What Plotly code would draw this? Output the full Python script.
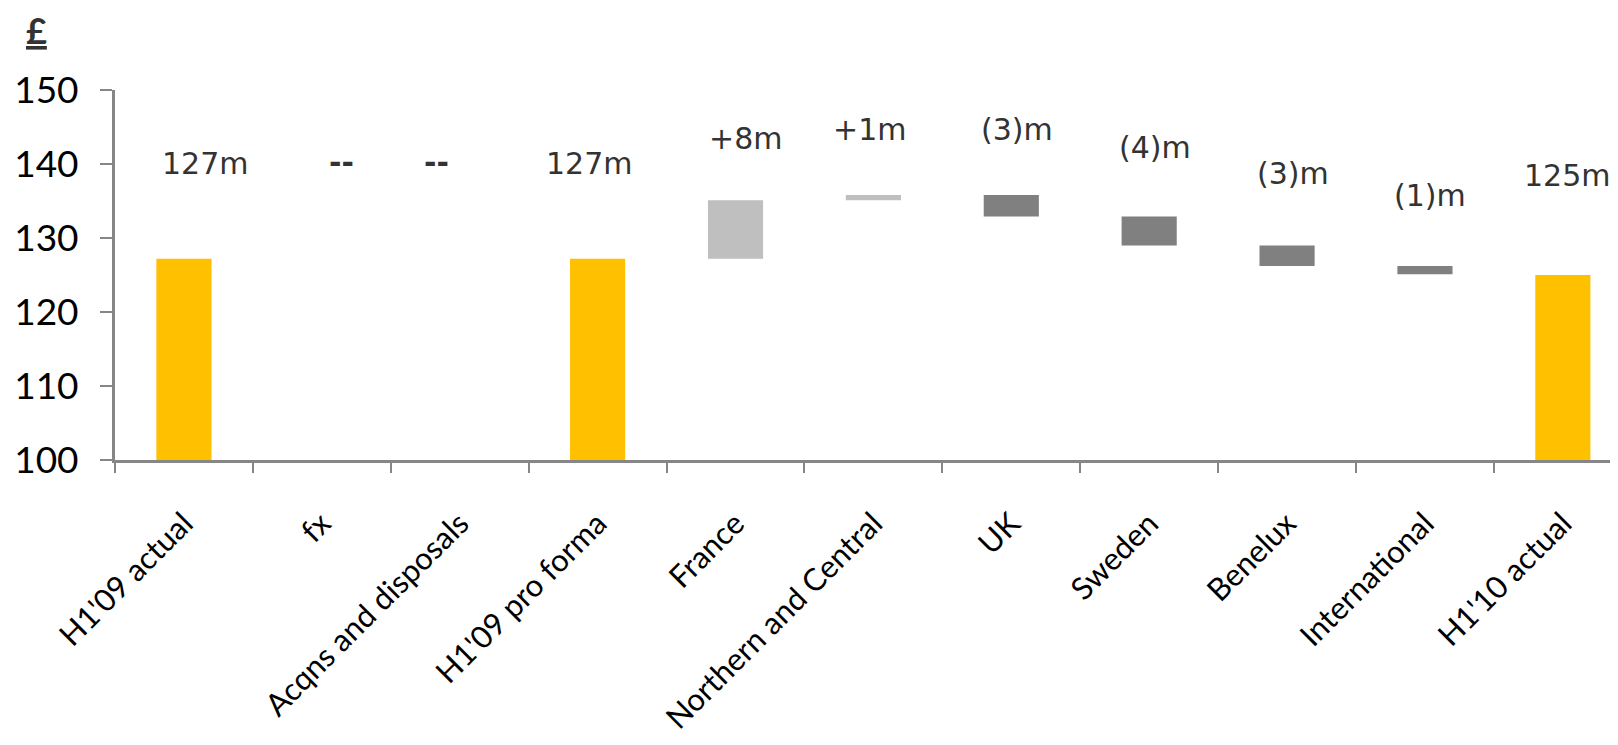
import plotly.graph_objects as go

categories = ["H1'09 actual", "fx", "Acqns and disposals", "H1'09 pro forma", "France",
              "Northern and Central", "UK", "Sweden", "Benelux", "International", "H1'10 actual"]
kinds = ["total", "delta", "delta", "total", "delta", "delta", "delta", "delta", "delta", "delta", "total"]
values = [127.2, 0.0, 0.0, 127.2, 7.9, 0.7, -2.9, -3.9, -2.8, -1.1, 125.0]
labels = ["127m", "--", "--", "127m", "+8m", "+1m", "(3)m", "(4)m", "(3)m", "(1)m", "125m"]

# label placement (positions, not data)
label_y = [140.1, 140.2, 140.2, 140.1, 143.4, 144.6, 144.7, 142.2, 138.7, 135.8, 138.5]
label_dx = [0.15, 0.14, -0.17, -0.06, 0.07, -0.03, 0.04, 0.04, 0.04, 0.04, 0.03]

YELLOW = "#FFC000"
LIGHT = "#BFBFBF"
DARK = "#808080"

bases, heights, colors = [], [], []
running = 0.0
for k, v in zip(kinds, values):
    if k == "total":
        running = v
        bases.append(0)
        heights.append(v)
        colors.append(YELLOW)
    else:
        if v == 0:
            bases.append(None)
            heights.append(None)
            colors.append(LIGHT)
        else:
            bases.append(running + min(0.0, v))
            heights.append(abs(v))
            colors.append(LIGHT if v > 0 else DARK)
        running += v

fig = go.Figure()
fig.add_trace(go.Bar(x=categories, y=heights, base=bases, marker=dict(color=colors, line=dict(width=0)),
                     width=0.4, hoverinfo="skip", showlegend=False))

# page body has an 8px margin; compensate
OFF = 8
W, H = 1618 - OFF, 745 - OFF
ML, MR, MT, MB = 115 - OFF, 0, 90 - OFF, 285
pw, ph = W - ML - MR, H - MT - MB

annotations = []
for i, (lab, ly, dx) in enumerate(zip(labels, label_y, label_dx)):
    txt = "<b>%s</b>" % lab if lab == "--" else lab
    annotations.append(dict(x=i + dx, y=ly, xref="x", yref="y", text=txt, showarrow=False,
                            font=dict(family="DejaVu Sans", size=30, color="#333333"),
                            xanchor="center", yanchor="middle"))
annotations.append(dict(x=(36 - OFF - ML) / pw, y=(H - MB - 22) / ph, xref="paper", yref="paper",
                        text="<b><u>£</u></b>", showarrow=False, xanchor="center", yanchor="middle",
                        font=dict(family="Lato", size=36, color="#333333")))

fig.update_layout(
    width=W, height=H,
    margin=dict(l=ML, r=MR, t=MT, b=MB, pad=0),
    plot_bgcolor="white", paper_bgcolor="white",
    annotations=annotations,
    xaxis=dict(type="category", range=[-0.5, 10.4], showgrid=False, showline=True,
               linecolor="#868686", linewidth=3, ticks="outside", tickson="boundaries",
               ticklen=10, tickwidth=2, tickcolor="#868686", tickangle=-45,
               tickfont=dict(family="Lato", size=31, color="black"), ticklabelstandoff=30),
    yaxis=dict(range=[100, 150], dtick=10, showgrid=False, showline=True, zeroline=False,
               linecolor="#868686", linewidth=3, ticks="outside", ticklen=12, tickwidth=2,
               tickcolor="#868686", tickfont=dict(family="Lato", size=37, color="black"),
               ticklabelstandoff=14),
)
fig.write_html("out.html")
